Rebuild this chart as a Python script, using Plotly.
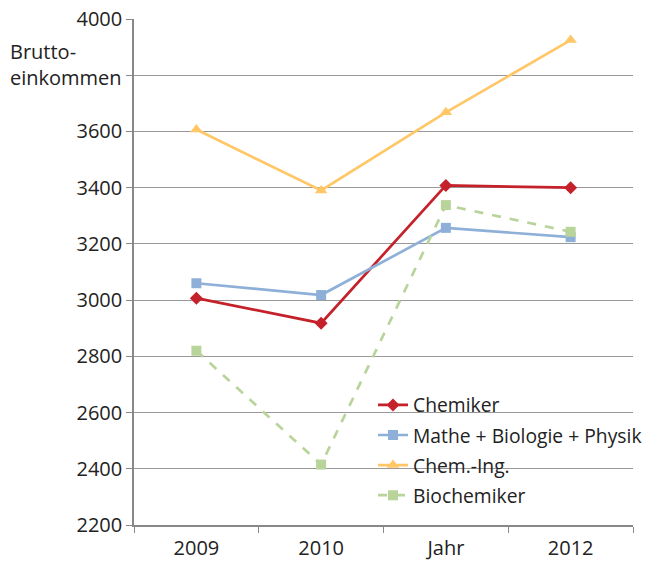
import plotly.graph_objects as go

years = ["2009", "2010", "2011", "2012"]
tick_labels = ["2009", "2010", "Jahr", "2012"]
y_tick_values = [2200, 2400, 2600, 2800, 3000, 3200, 3400, 3600, 3800, 4000]
y_tick_labels = ["2200", "2400", "2600", "2800", "3000", "3200", "3400", "3600", "", "4000"]

chemiker = [3007, 2918, 3408, 3400]
mathe_bio_phys = [3060, 3018, 3257, 3224]
chem_ing = [3607, 3390, 3668, 3925]
biochemiker = [2820, 2415, 3338, 3243]

FONT = "Open Sans"

fig = go.Figure()
fig.add_trace(go.Scatter(x=years, y=chemiker, name="Chemiker", mode="lines+markers",
                         legendgroup="a",
                         line=dict(color="#C4212B", width=2.7),
                         marker=dict(symbol="diamond", size=10, color="#C4212B")))
fig.add_trace(go.Scatter(x=years, y=mathe_bio_phys, name="Mathe + Biologie + Physik", mode="lines+markers",
                         legendgroup="b",
                         line=dict(color="#8EB0D8", width=2.7),
                         marker=dict(symbol="square", size=10, color="#8EB0D8")))
fig.add_trace(go.Scatter(x=years, y=chem_ing, name="Chem.-Ing.", mode="lines+markers",
                         legendgroup="c",
                         line=dict(color="#FFC768", width=2.7),
                         marker=dict(symbol="triangle-up", size=11, color="#FFC768")))
fig.add_trace(go.Scatter(x=years, y=biochemiker, name="Biochemiker", mode="lines+markers",
                         legendgroup="d",
                         line=dict(color="#B9D49B", width=2.7, dash="dash"),
                         marker=dict(symbol="square", size=10, color="#B9D49B")))

fig.update_layout(
    width=655, height=561,
    margin=dict(l=134, r=22, t=19, b=36, autoexpand=False),
    paper_bgcolor="white", plot_bgcolor="white",
    font=dict(family=FONT, size=20, color="#222222"),
    showlegend=True,
    legend=dict(x=0.479, y=0.275, xanchor="left", yanchor="top",
                bgcolor="rgba(255,255,255,0)", font=dict(size=19.3),
                itemwidth=30, tracegroupgap=2, traceorder="grouped"),
    xaxis=dict(type="category", tickmode="array", tickvals=years, ticktext=tick_labels,
               tickson="boundaries", ticks="outside", ticklen=6, tickcolor="#888888",
               showline=True, linecolor="#888888", linewidth=1.5, showgrid=False,
               range=[-0.5, 3.5], tickfont=dict(size=20), automargin=False,
               ticklabelstandoff=4),
    yaxis=dict(range=[2200, 4000], tickmode="array", tickvals=y_tick_values,
               ticktext=y_tick_labels, ticks="outside", ticklen=6,
               tickcolor="#888888", showline=True, linecolor="#888888", linewidth=1.5,
               showgrid=True, gridcolor="#999999", gridwidth=1.3, zeroline=False,
               tickfont=dict(size=20), automargin=False, ticklabeloverflow="allow"),
    annotations=[dict(text="Brutto-<br>einkommen", xref="paper", yref="paper",
                      x=-0.2525, y=0.966, xanchor="left", yanchor="top", showarrow=False,
                      align="left", font=dict(size=20))],
)

fig.write_html("out.html", config={"displayModeBar": False},
               post_script="document.body.style.margin='0';")
